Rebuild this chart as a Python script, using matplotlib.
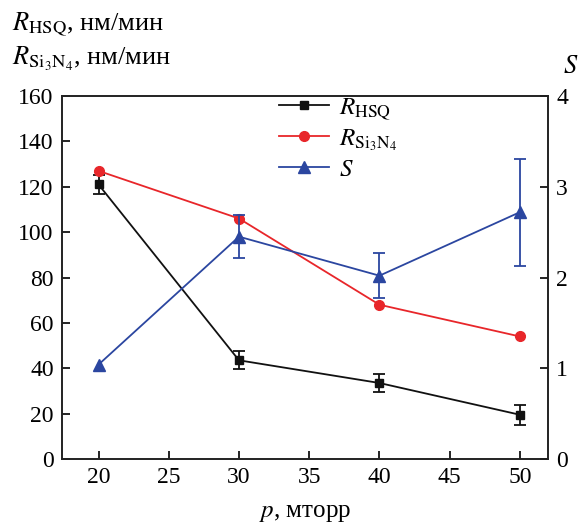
import matplotlib
matplotlib.use("Agg")
import matplotlib.pyplot as plt
from matplotlib.lines import Line2D
import numpy as np

plt.rcParams['font.family'] = ['Liberation Serif', 'DejaVu Serif']
plt.rcParams['mathtext.fontset'] = 'stix'

p = [20, 30, 40, 50]
r_hsq = [121, 43.5, 33.5, 19.5]
r_hsq_err = [4, 4, 4, 4.5]
r_si3n4 = [127, 106, 68, 54]
s_vals = [1.04, 2.45, 2.02, 2.72]
s_err = [np.nan, 0.24, 0.25, 0.59]
x_ticks = [20, 25, 30, 35, 40, 45, 50]
y_ticks = [0, 20, 40, 60, 80, 100, 120, 140, 160]
s_ticks = [0, 1, 2, 3, 4]

black = '#111111'
red = '#e8262a'
blue = '#2b46a0'

fig = plt.figure(figsize=(5.81, 5.25), dpi=100)
ax = fig.add_axes([62/581, 66/525, (548-62)/581, (459-96)/525])
ax2 = ax.twinx()

ax.errorbar(p, r_hsq, yerr=r_hsq_err, color=black, marker='s', ms=6,
            lw=1.3, capsize=4, elinewidth=1.3, capthick=1.3, zorder=3)
ax.plot(p, r_si3n4, color=red, marker='o', ms=7, lw=1.3, zorder=3)
ax2.errorbar(p, s_vals, yerr=s_err, color=blue, marker='^', ms=8, lw=1.3,
             capsize=4, elinewidth=1.3, capthick=1.3, zorder=3)

ax.set_xlim(17.4, 52)
ax.set_ylim(0, 160)
ax2.set_ylim(0, 4)
ax.set_xticks(x_ticks)
ax.set_yticks(y_ticks)
ax2.set_yticks(s_ticks)

for a in (ax, ax2):
    a.tick_params(direction='in', length=6, width=1.2, labelsize=17, pad=6)
    for sp in a.spines.values():
        sp.set_linewidth(1.2)
        sp.set_color('#222222')

ax.set_xlabel(r'$p$, мторр', fontsize=18, labelpad=10)
fig.text(12/581, 1 - 24/525, r'$R_{\mathrm{HSQ}}$, нм/мин', fontsize=19, va='center', ha='left')
fig.text(12/581, 1 - 59/525, r'$R_{\mathrm{Si_3N_4}}$, нм/мин', fontsize=19, va='center', ha='left')
fig.text(571/581, 1 - 67/525, r'$S$', fontsize=19, va='center', ha='center')

h1 = Line2D([], [], color=black, marker='s', ms=6, lw=1.3)
h2 = Line2D([], [], color=red, marker='o', ms=7, lw=1.3)
h3 = Line2D([], [], color=blue, marker='^', ms=8, lw=1.3)
ax.legend(handles=[h1, h2, h3],
          labels=[r'$R_{\mathrm{HSQ}}$', r'$R_{\mathrm{Si_3N_4}}$', r'$S$'],
          loc='upper left', bbox_to_anchor=(0.40, 1.06), frameon=False,
          fontsize=18, handlelength=2.0, handletextpad=0.4, labelspacing=0.2)

fig.savefig('out.png', dpi=100)
